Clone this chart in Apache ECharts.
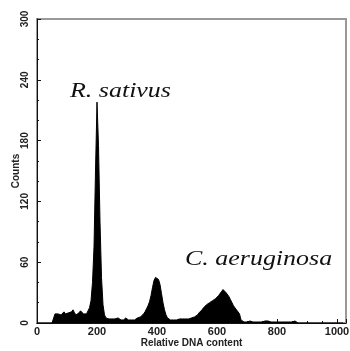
<!DOCTYPE html>
<html>
<head>
<meta charset="utf-8">
<style>
  html, body { margin: 0; padding: 0; background: #fff; }
  #chart { width: 350px; height: 351px; }
</style>
<script src="https://cdn.jsdelivr.net/npm/echarts@6/dist/echarts.min.js"></script>
</head>
<body>
<div id="chart"></div>
<script>
// histogram bins: channel = binStart + i * binWidth
const binStart = 0
const binWidth = 5
const counts = [
  // 0 - 55
  0, 0, 0, 0, 0, 0, 0, 0, 0, 0, 0, 0,
  // 60 - 175
  9, 10, 9, 10, 8, 9, 11, 9, 8, 10, 9, 11, 13, 10, 8, 9, 10, 12, 11, 9, 8, 9, 10, 15,
  // 180 - 230 (R. sativus G1)
  22, 40, 75, 150, 218, 175, 100, 45, 18, 8, 5,
  // 235 - 355
  5, 4, 5, 4, 3, 4, 3, 5, 4, 3, 4, 3, 5, 4, 3, 4, 3, 4, 3, 4, 5, 4, 6, 7, 9,
  // 360 - 440
  11, 14, 17, 21, 27, 35, 42, 45, 45, 43, 38, 29, 20, 13, 8, 5, 4,
  // 445 - 600
  3, 4, 3, 4, 3, 3, 4, 3, 4, 3, 4, 3, 4, 4, 5, 5,
  6, 7, 8, 10, 11, 13, 15, 16, 18, 19, 20, 21, 22, 23, 24, 25,
  // 605 - 685 (C. aeruginosa)
  27, 29, 31, 33, 32, 30, 29, 26, 23, 20, 17, 15, 13, 12, 9, 3, 2,
  // 690 - 865
  1, 2, 1, 1, 2, 1, 1, 2, 1, 2, 1, 2, 1, 1, 2, 1, 2, 1,
  1, 2, 1, 2, 1, 2, 1, 1, 1, 2, 1, 1, 1, 2, 1, 1, 2, 1,
  // 870 - 1020
  0, 0, 0, 0, 0, 0, 0, 0, 0, 0, 0, 0, 0, 0, 0, 0,
  0, 0, 0, 0, 0, 0, 0, 0, 0, 0, 0, 0, 0, 0, 0
]
const xTicks = [0, 200, 400, 600, 800, 1000]
const yTicks = [0, 60, 120, 180, 240, 300]
const labels = ['R. sativus', 'C. aeruginosa']

const seriesData = counts.map((c, i) => [binStart + i * binWidth, c])

const chart = echarts.init(document.getElementById('chart'))

const labelFont = {
  color: '#222',
  fontSize: 10,
  fontWeight: 'bold',
  fontFamily: 'Liberation Sans, Arial, sans-serif'
}

const option = {
  backgroundColor: '#fff',
  animation: false,
  grid: {
    left: 37,
    right: 4,
    top: 19,
    bottom: 28,
    containLabel: false,
    outerBoundsMode: 'none',
    show: true,
    borderColor: '#999',
    borderWidth: 2
  },
  xAxis: {
    type: 'value',
    min: 0,
    max: 1030,
    interval: 200,
    name: 'Relative DNA content',
    nameLocation: 'middle',
    nameGap: 15,
    nameMoveOverlap: false,
    nameTextStyle: labelFont,
    axisLine: { show: true, lineStyle: { color: '#111', width: 1 } },
    axisTick: { show: true, inside: true, length: 4, lineStyle: { color: '#111' } },
    minorTick: { show: true, splitNumber: 4, length: 2, lineStyle: { color: '#111' } },
    splitLine: { show: false },
    axisLabel: Object.assign({}, labelFont, {
      fontSize: 11,
      margin: 3,
      formatter: v => (xTicks.indexOf(v) >= 0 ? String(v) : '')
    })
  },
  yAxis: {
    type: 'value',
    min: 0,
    max: 300,
    interval: 60,
    name: 'Counts',
    nameLocation: 'middle',
    nameRotate: 90,
    nameGap: 16,
    nameMoveOverlap: false,
    nameTextStyle: labelFont,
    axisLine: { show: true, lineStyle: { color: '#111', width: 1 } },
    axisTick: { show: true, inside: true, length: 4, lineStyle: { color: '#111' } },
    minorTick: { show: true, splitNumber: 3, length: 2, lineStyle: { color: '#111' } },
    splitLine: { show: false },
    axisLabel: Object.assign({}, labelFont, {
      rotate: 90,
      margin: 7,
      formatter: v => (yTicks.indexOf(v) >= 0 ? String(v) : '')
    })
  },
  series: [
    {
      type: 'line',
      data: seriesData,
      symbol: 'none',
      sampling: 'none',
      lineStyle: { color: '#000', width: 1 },
      areaStyle: { color: '#000', opacity: 1 },
      z: 1
    }
  ],
  graphic: [
    {
      type: 'text',
      x: 70,
      y: 80,
      scaleX: 1.18,
      style: {
        text: labels[0],
        fill: '#111',
        font: 'italic 22px "Liberation Serif", "Times New Roman", serif'
      }
    },
    {
      type: 'text',
      x: 185,
      y: 248,
      scaleX: 1.18,
      style: {
        text: labels[1],
        fill: '#111',
        font: 'italic 22px "Liberation Serif", "Times New Roman", serif'
      }
    }
  ]
}

chart.setOption(option)
</script>
</body>
</html>
